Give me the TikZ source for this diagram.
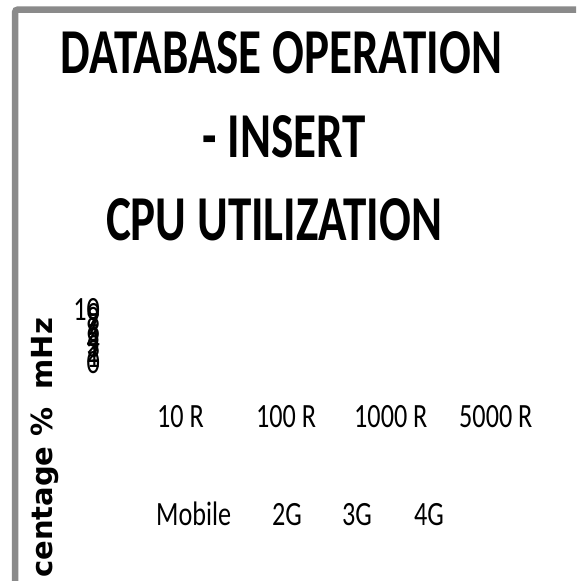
\documentclass[tikz,border=0pt]{standalone}
\usepackage{fontspec}
\setmainfont{Carlito}
\newfontfamily\axisfont{DejaVu Sans}
\definecolor{framegray}{HTML}{8A8A8A}
\tikzset{
  titleline/.style={anchor=base, inner sep=0pt, font=\fontsize{64}{64}\selectfont\bfseries},
  catlabel/.style={anchor=base west, inner sep=0pt, font=\fontsize{34}{34}\selectfont},
  ticklabel/.style={anchor=base east, inner sep=0pt, font=\fontsize{34}{34}\selectfont},
  axislabel/.style={anchor=base west, inner sep=0pt, rotate=90, font=\fontsize{29}{29}\selectfont\axisfont\bfseries},
}
\newcommand{\narrowtitle}[1]{\scalebox{0.735}[1]{#1}}
\newcommand{\narrowcat}[1]{\scalebox{0.77}[1]{#1}}
\begin{document}
\begin{tikzpicture}[x=1pt,y=-1pt]
  \useasboundingbox (0,0) rectangle (576,581);
  \clip (0,0) rectangle (576,581);
  \fill[white] (0,0) rectangle (576,581);
  % chart area border, running off the right and bottom edges
  \draw[framegray, line width=6.5pt, rounded corners=3pt]
    (15,620) -- (15,9.5) -- (620,9.5);

  % title
  \node[titleline] (t1) at (281.5,73) {\narrowtitle{DATABASE OPERATION}};
  \node[titleline] (t2) at (284,157) {\narrowtitle{- INSERT}};
  \node[titleline] (t3) at (274,240) {\narrowtitle{CPU UTILIZATION}};

  % value axis labels, squeezed together
  \foreach \v in {0,...,10} {
    \node[ticklabel] (tick\v) at (100,{373-5.3*\v}) {\narrowcat{\v}};
  }

  % axis title
  \node[axislabel] (ytitle) at (52,578) {centage\hspace{0.35em}\%\hspace{0.62em}mHz};

  % category labels
  \node[catlabel] (c1) at (157,427) {\narrowcat{10 R}};
  \node[catlabel] (c2) at (256,427) {\narrowcat{100 R}};
  \node[catlabel] (c3) at (354,427) {\narrowcat{1000 R}};
  \node[catlabel] (c4) at (459,427) {\narrowcat{5000 R}};

  \node[catlabel] (s1) at (156,525) {\narrowcat{Mobile}};
  \node[catlabel] (s2) at (272,525) {\narrowcat{2G}};
  \node[catlabel] (s3) at (342,525) {\narrowcat{3G}};
  \node[catlabel] (s4) at (414,525) {\narrowcat{4G}};
\end{tikzpicture}
\end{document}
